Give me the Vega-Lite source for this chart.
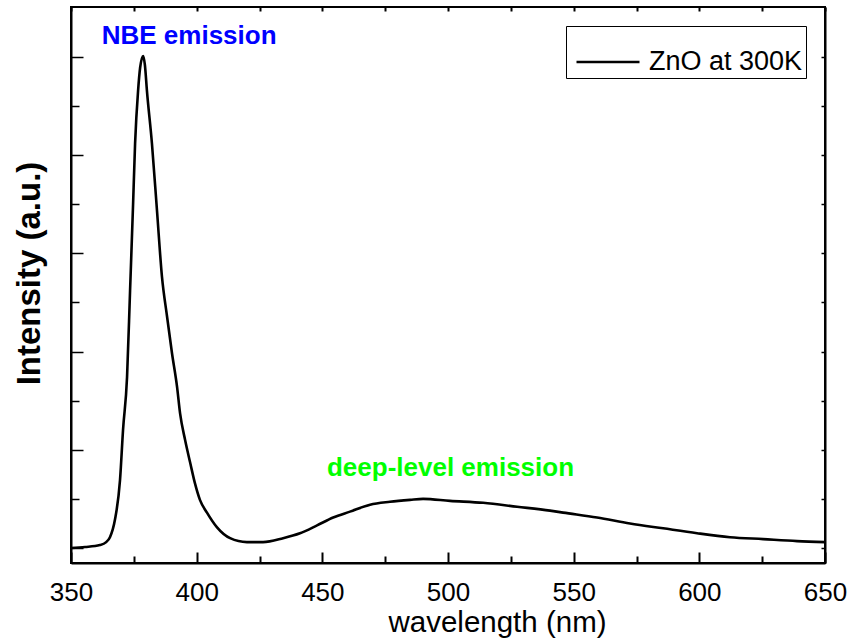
{
  "$schema": "https://vega.github.io/schema/vega-lite/v6.json",
  "width": 754,
  "height": 556,
  "autosize": "none",
  "padding": {"left": 71, "top": 7, "right": 26, "bottom": 79},
  "config": {
    "font": "Liberation Sans",
    "view": {"stroke": "black", "strokeWidth": 2},
    "axis": {"grid": false, "domainColor": "black", "domainWidth": 2, "tickColor": "black", "tickWidth": 1.5, "labelColor": "black", "titleColor": "black"}
  },
  "data": {
    "values": [
      {"wavelength": 350, "intensity": 0.00},
      {"wavelength": 355.6, "intensity": 0.01},
      {"wavelength": 361.5, "intensity": 0.03},
      {"wavelength": 364, "intensity": 0.06},
      {"wavelength": 365.5, "intensity": 0.11},
      {"wavelength": 367.5, "intensity": 0.29},
      {"wavelength": 369.5, "intensity": 0.69},
      {"wavelength": 370.7, "intensity": 1.20},
      {"wavelength": 372.3, "intensity": 1.74},
      {"wavelength": 373.5, "intensity": 2.62},
      {"wavelength": 374.7, "intensity": 3.50},
      {"wavelength": 375.5, "intensity": 4.12},
      {"wavelength": 376.7, "intensity": 4.66},
      {"wavelength": 377.5, "intensity": 4.89},
      {"wavelength": 378.7, "intensity": 5.01},
      {"wavelength": 379.4, "intensity": 4.92},
      {"wavelength": 380.2, "intensity": 4.66},
      {"wavelength": 382.2, "intensity": 4.12},
      {"wavelength": 384.2, "intensity": 3.44},
      {"wavelength": 386.2, "intensity": 2.76},
      {"wavelength": 388.2, "intensity": 2.36},
      {"wavelength": 390.2, "intensity": 1.98},
      {"wavelength": 392.2, "intensity": 1.64},
      {"wavelength": 393.4, "intensity": 1.37},
      {"wavelength": 395.4, "intensity": 1.10},
      {"wavelength": 397.4, "intensity": 0.87},
      {"wavelength": 399.3, "intensity": 0.66},
      {"wavelength": 401.3, "intensity": 0.49},
      {"wavelength": 404.1, "intensity": 0.36},
      {"wavelength": 408.1, "intensity": 0.21},
      {"wavelength": 413.3, "intensity": 0.10},
      {"wavelength": 420, "intensity": 0.06},
      {"wavelength": 426.4, "intensity": 0.06},
      {"wavelength": 434.4, "intensity": 0.10},
      {"wavelength": 441.1, "intensity": 0.15},
      {"wavelength": 447.9, "intensity": 0.23},
      {"wavelength": 454.3, "intensity": 0.31},
      {"wavelength": 461, "intensity": 0.37},
      {"wavelength": 469, "intensity": 0.44},
      {"wavelength": 476.9, "intensity": 0.47},
      {"wavelength": 484.9, "intensity": 0.49},
      {"wavelength": 490.1, "intensity": 0.50},
      {"wavelength": 500.8, "intensity": 0.48},
      {"wavelength": 514, "intensity": 0.46},
      {"wavelength": 527.5, "intensity": 0.42},
      {"wavelength": 540.6, "intensity": 0.38},
      {"wavelength": 545.8, "intensity": 0.36},
      {"wavelength": 559.3, "intensity": 0.31},
      {"wavelength": 572.4, "intensity": 0.25},
      {"wavelength": 585.6, "intensity": 0.20},
      {"wavelength": 599.1, "intensity": 0.15},
      {"wavelength": 612.2, "intensity": 0.11},
      {"wavelength": 625.4, "intensity": 0.09},
      {"wavelength": 638.9, "intensity": 0.07},
      {"wavelength": 650, "intensity": 0.06}
    ]
  },
  "layer": [
    {
      "mark": {"type": "line", "interpolate": "monotone", "strokeWidth": 2.6},
      "encoding": {
        "x": {"field": "wavelength", "type": "quantitative", "scale": {"domain": [350, 650], "nice": false, "zero": false},
          "axis": {"orient": "bottom", "values": [350, 400, 450, 500, 550, 600, 650], "ticks": false, "labelFontSize": 26, "labelPadding": 16, "labelFlush": false,
            "title": "wavelength (nm)", "titleFontSize": 29.5, "titleFontWeight": "normal", "titleX": 426, "titleY": 59, "titleAlign": "center", "titleBaseline": "middle"}},
        "y": {"field": "intensity", "type": "quantitative", "scale": {"domain": [-0.153, 5.509], "nice": false, "zero": false},
          "axis": {"orient": "left", "values": [0, 1, 2, 3, 4, 5], "tickSize": -12, "labels": false,
            "title": "Intensity (a.u.)", "titleFontSize": 33, "titleFontWeight": "bold", "titleAngle": 270, "titleX": -42, "titleY": 266, "titleAlign": "center", "titleBaseline": "middle"}},
        "color": {"datum": "ZnO at 300K", "type": "nominal", "scale": {"range": ["black"]},
          "legend": {"orient": "none", "legendX": 495, "legendY": 19, "title": null, "strokeColor": "black", "fillColor": "white", "padding": 3,
            "symbolType": "stroke", "symbolSize": 3969, "symbolStrokeWidth": 2.5, "symbolStrokeColor": "black", "symbolOffset": 6,
            "labelFontSize": 27, "labelOffset": 8, "labelColor": "black", "labelExpr": "datum.label + ' '"}}
      }
    },
    {
      "mark": {"type": "line", "strokeOpacity": 0},
      "encoding": {
        "x": {"field": "wavelength", "type": "quantitative",
          "axis": {"orient": "top", "offset": -556, "zindex": 2, "ticks": true, "values": [350, 400, 450, 500, 550, 600, 650], "tickSize": 11, "tickWidth": 2, "tickColor": "black", "tickOpacity": 1, "labels": false, "domain": false, "title": null}},
        "y": {"field": "intensity", "type": "quantitative",
          "axis": {"orient": "left", "values": [0.5, 1.5, 2.5, 3.5, 4.5], "tickSize": -8, "labels": false, "domain": false, "title": null}}
      }
    },
    {
      "mark": {"type": "line", "strokeOpacity": 0},
      "encoding": {
        "x": {"field": "wavelength", "type": "quantitative",
          "axis": {"orient": "top", "offset": -556, "zindex": 2, "ticks": true, "values": [375, 425, 475, 525, 575, 625], "tickSize": 7, "tickWidth": 2, "tickColor": "black", "tickOpacity": 1, "labels": false, "domain": false, "title": null}},
        "y": {"field": "intensity", "type": "quantitative",
          "axis": {"orient": "right", "values": [0, 0.5, 1, 1.5, 2, 2.5, 3, 3.5, 4, 4.5, 5], "tickSize": -4, "labels": false, "title": null}}
      }
    },
    {
      "mark": {"type": "line", "strokeOpacity": 0},
      "encoding": {
        "x": {"field": "wavelength", "type": "quantitative",
          "axis": {"orient": "bottom", "offset": -556, "zindex": 2, "ticks": true, "values": [350, 375, 400, 425, 450, 475, 500, 525, 550, 575, 600, 625, 650], "tickSize": 4, "tickWidth": 2, "tickColor": "black", "tickOpacity": 1, "labels": false, "domain": false, "title": null}},
        "y": {"field": "intensity", "type": "quantitative", "axis": null}
      }
    },
    {
      "data": {"values": [{"label": "NBE emission", "wavelength": 397, "intensity": 5.217}]},
      "mark": {"type": "text", "font": "Liberation Sans", "fontWeight": "bold", "fontSize": 26, "color": "#0000ff", "baseline": "middle", "align": "center"},
      "encoding": {
        "x": {"field": "wavelength", "type": "quantitative", "axis": null},
        "y": {"field": "intensity", "type": "quantitative", "axis": null},
        "text": {"field": "label"}
      }
    },
    {
      "data": {"values": [{"label": "deep-level emission", "wavelength": 501, "intensity": 0.81}]},
      "mark": {"type": "text", "font": "Liberation Sans", "fontWeight": "bold", "fontSize": 26, "color": "#00ff00", "baseline": "middle", "align": "center"},
      "encoding": {
        "x": {"field": "wavelength", "type": "quantitative", "axis": null},
        "y": {"field": "intensity", "type": "quantitative", "axis": null},
        "text": {"field": "label"}
      }
    }
  ],
  "resolve": {"axis": {"x": "independent", "y": "independent"}}
}
